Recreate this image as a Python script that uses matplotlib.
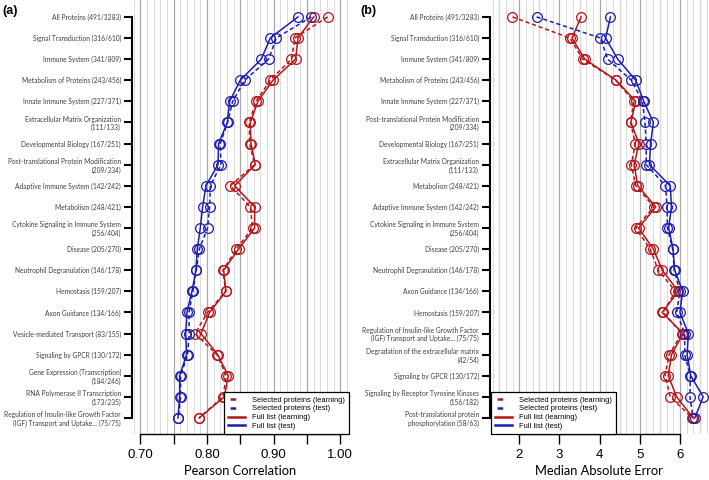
import matplotlib
matplotlib.use('Agg')
import matplotlib.pyplot as plt
from matplotlib.ticker import MultipleLocator, FuncFormatter
from matplotlib.lines import Line2D

plt.rcParams['lines.scale_dashes'] = False

ROJO = '#b5161b'
AZUL = '#1c1cb0'

# --- panel (a): Pearson correlation ---
cats_a = [
    'All Proteins (491/3283)',
    'Signal Transduction (316/610)',
    'Immune System (341/809)',
    'Metabolism of Proteins (243/456)',
    'Innate Immune System (227/371)',
    'Extracellular Matrix Organization\n(111/133)',
    'Developmental Biology (167/251)',
    'Post-translational Protein Modification\n(209/334)',
    'Adaptive Immune System (142/242)',
    'Metabolism (248/421)',
    'Cytokine Signaling in Immune System\n(256/404)',
    'Disease (205/270)',
    'Neutrophil Degranulation (146/178)',
    'Hemostasis (159/207)',
    'Axon Guidance (134/166)',
    'Vesicle-mediated Transport (83/155)',
    'Signaling by GPCR (130/172)',
    'Gene Expression (Transcription)\n(184/246)',
    'RNA Polymerase II Transcription\n(173/235)',
    'Regulation of Insulin-like Growth Factor\n(IGF) Transport and Uptake... (75/75)',
]
sel_learn_a = [0.981, 0.932, 0.9265, 0.895, 0.8735, 0.8635, 0.864, 0.8715, 0.835, 0.865,
               0.8685, 0.844, 0.824, 0.828, 0.801, 0.782, 0.815, 0.829, 0.824, 0.788]
sel_test_a = [0.9565, 0.904, 0.8925, 0.8565, 0.8385, 0.831, 0.82, 0.821, 0.805, 0.804,
              0.801, 0.7885, 0.784, 0.779, 0.773, 0.7735, 0.771, 0.7605, 0.7605, 0.757]
full_learn_a = [0.96, 0.9365, 0.933, 0.899, 0.8765, 0.865, 0.866, 0.8725, 0.8415, 0.8715,
                0.8715, 0.8475, 0.825, 0.8285, 0.804, 0.791, 0.816, 0.832, 0.826, 0.7885]
full_test_a = [0.9365, 0.895, 0.8815, 0.85, 0.834, 0.8305, 0.8175, 0.8165, 0.7985, 0.7935,
               0.79, 0.7855, 0.7835, 0.7775, 0.77, 0.768, 0.7695, 0.759, 0.759, 0.7565]

# --- panel (b): median absolute error ---
cats_b = [
    'All Proteins (491/3283)',
    'Signal Transduction (316/610)',
    'Immune System (341/809)',
    'Metabolism of Proteins (243/456)',
    'Innate Immune System (227/371)',
    'Post-translational Protein Modification\n(209/334)',
    'Developmental Biology (167/251)',
    'Extracellular Matrix Organization\n(111/133)',
    'Metabolism (248/421)',
    'Adaptive Immune System (142/242)',
    'Cytokine Signaling in Immune System\n(256/404)',
    'Disease (205/270)',
    'Neutrophil Degranulation (146/178)',
    'Axon Guidance (134/166)',
    'Hemostasis (159/207)',
    'Regulation of Insulin-like Growth Factor\n(IGF) Transport and Uptake... (75/75)',
    'Degradation of the extracellular matrix\n(42/54)',
    'Signaling by GPCR (130/172)',
    'Signaling by Receptor Tyrosine Kinases\n(156/182)',
    'Post-translational protein\nphosphorylation (58/63)',
]
sel_learn_b = [1.83, 3.26, 3.58, 4.40, 4.85, 4.77, 4.89, 4.79, 4.90, 5.35,
               4.90, 5.26, 5.46, 5.89, 5.58, 6.05, 5.73, 5.63, 5.76, 6.31]
sel_test_b = [2.43, 4.02, 4.20, 4.79, 5.07, 5.13, 5.16, 5.16, 5.64, 5.68,
              5.69, 5.82, 5.86, 6.00, 5.92, 6.12, 6.12, 6.26, 6.25, 6.33]
full_learn_b = [3.54, 3.31, 3.63, 4.41, 4.90, 4.78, 4.98, 4.86, 4.95, 5.40,
                4.97, 5.34, 5.56, 5.96, 5.56, 6.08, 5.79, 5.71, 5.92, 6.33]
full_test_b = [4.27, 4.15, 4.45, 4.90, 5.10, 5.34, 5.27, 5.24, 5.76, 5.79,
               5.72, 5.83, 5.87, 6.07, 6.00, 6.21, 6.18, 6.27, 6.58, 6.37]

etiquetas = ['Selected proteins (learning)', 'Selected proteins (test)',
             'Full list (learning)', 'Full list (test)']


def dibujar(ax, cats, series, xlim, xbounds):
    y = list(range(len(cats)))
    estilos = [(ROJO, (0, (3, 2))), (AZUL, (0, (3, 2))), (ROJO, '-'), (AZUL, '-')]
    for vals, (col, ls) in zip(series, estilos):
        ax.plot(vals, y, color=col, linestyle=ls, lw=1.1, marker='o', ms=7,
                mfc='none', mec=col, mew=0.9, zorder=3)
    ax.set_ylim(len(cats) - 0.24, -0.8)
    ax.set_xlim(*xlim)
    ax.set_yticks(y)
    ax.set_yticklabels(cats, fontsize=4.8, family='Lato', color='#404040')
    ax.tick_params(axis='y', direction='out', length=5.5, width=1.5, pad=2.5)
    for s in ['top', 'right']:
        ax.spines[s].set_visible(False)
    ax.spines['left'].set_bounds(0, len(cats) - 1)
    ax.spines['left'].set_linewidth(1.5)
    ax.spines['bottom'].set_bounds(*xbounds)
    ax.spines['bottom'].set_linewidth(1.0)
    ax.tick_params(axis='x', which='major', direction='out', length=7, width=1.0,
                   labelsize=9.5, pad=4)
    ax.tick_params(axis='x', which='minor', length=0)
    for lab in ax.get_xticklabels():
        lab.set_family('Liberation Sans')
    ax.grid(True, axis='x', which='major', color='#a8a8a8', lw=0.9, zorder=0)
    ax.grid(True, axis='x', which='minor', color='#dcdcdc', lw=0.7, zorder=0)
    ax.set_axisbelow(True)

    # guiones cortos en la leyenda para las series "Selected"
    manejadores = [
        Line2D([], [], color=ROJO, lw=1.8, linestyle=(22.5, (4, 20))),
        Line2D([], [], color=AZUL, lw=1.8, linestyle=(22.5, (4, 20))),
        Line2D([], [], color=ROJO, lw=1.8),
        Line2D([], [], color=AZUL, lw=1.8),
    ]
    return manejadores


def leyenda(ax, h, loc, anchor):
    leg = ax.legend(h, etiquetas, loc=loc, bbox_to_anchor=anchor,
                    borderaxespad=0, fancybox=False, framealpha=1, edgecolor='black',
                    prop={'family': 'Liberation Sans', 'size': 5.4},
                    handlelength=2.2, labelspacing=0.2, handletextpad=1.0,
                    borderpad=0.55)
    leg.get_frame().set_linewidth(0.9)
    leg.set_zorder(5)


fig = plt.figure(figsize=(7.09, 4.8), dpi=100)
ax_a = fig.add_axes([132 / 709, 46 / 480, 217 / 709, 434 / 480])
ax_b = fig.add_axes([490 / 709, 46 / 480, 218 / 709, 434 / 480])

# panel (a)
ax_a.xaxis.set_major_locator(MultipleLocator(0.05))
ax_a.xaxis.set_minor_locator(MultipleLocator(0.01))
ax_a.xaxis.set_major_formatter(FuncFormatter(
    lambda v, p: f'{v:.2f}' if abs(round(v * 10) - v * 10) < 1e-6 else ''))
h = dibujar(ax_a, cats_a, [sel_learn_a, sel_test_a, full_learn_a, full_test_a],
            (0.6876, 1.013), (0.70, 1.00))
ax_a.set_xlabel('Pearson Correlation', family='Lato', fontsize=9.3, labelpad=3)
leyenda(ax_a, h, 'lower right', (1, 0))

# panel (b)
ax_b.xaxis.set_major_locator(MultipleLocator(1))
ax_b.xaxis.set_minor_locator(MultipleLocator(0.5 / 3))
h = dibujar(ax_b, cats_b, [sel_learn_b, sel_test_b, full_learn_b, full_test_b],
            (1.27, 6.70), (2, 6))
for xv in [1.5, 2.5, 3.5, 4.5, 5.5, 6.5]:
    ax_b.axvline(xv, color='#a8a8a8', lw=0.9, zorder=0)
ax_b.set_xlabel('Median Absolute Error', family='Lato', fontsize=9.3, labelpad=3)
leyenda(ax_b, h, 'lower left', (0.005, 0))

fig.text(0.003, 0.978, '(a)', fontsize=9, fontweight='bold', family='Liberation Sans',
         va='center', ha='left')
fig.text(0.508, 0.978, '(b)', fontsize=9, fontweight='bold', family='Liberation Sans',
         va='center', ha='left')

fig.savefig('out.png', dpi=100)
